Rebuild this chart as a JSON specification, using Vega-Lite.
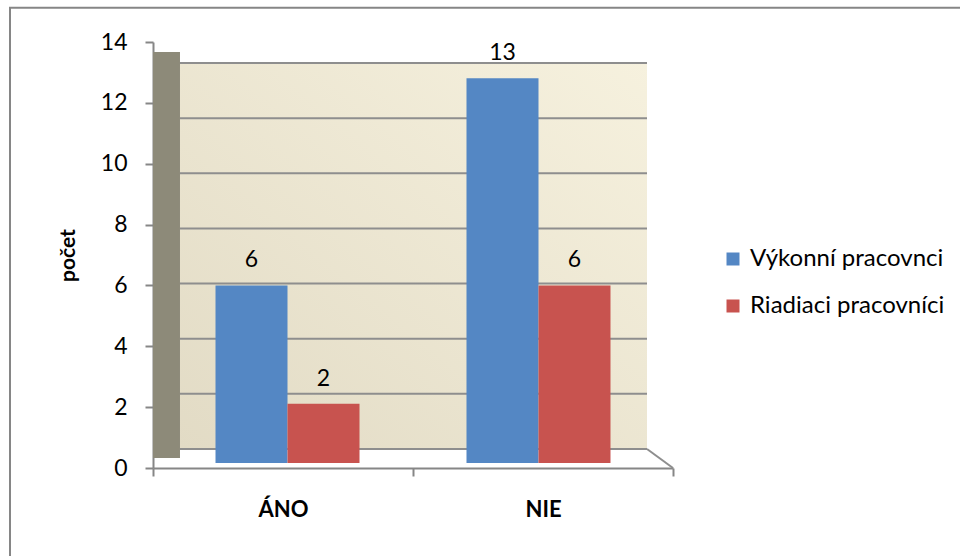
{
  "$schema": "https://vega.github.io/schema/vega-lite/v6.json",
  "width": 520,
  "height": 426,
  "autosize": {"type": "none"},
  "padding": {"left": 153, "top": 42, "right": 287, "bottom": 88},
  "background": "white",
  "config": {
    "view": {"stroke": null},
    "font": "Lato",
    "axis": {"labelFont": "Lato", "titleFont": "Lato"},
    "legend": {"labelFont": "Lato"}
  },
  "datasets": {
    "grid": [{"v": 0}, {"v": 2}, {"v": 4}, {"v": 6}, {"v": 8}, {"v": 10}, {"v": 12}, {"v": 14}]
  },
  "data": {
    "values": [
      {"cat": "ÁNO", "series": "Výkonní pracovnci", "value": 6},
      {"cat": "ÁNO", "series": "Riadiaci pracovníci", "value": 2},
      {"cat": "NIE", "series": "Výkonní pracovnci", "value": 13},
      {"cat": "NIE", "series": "Riadiaci pracovníci", "value": 6}
    ]
  },
  "layer": [
    {
      "layer": [
        {
          "data": {"values": [{}]},
          "mark": {"type": "rect", "fillOpacity": 0, "stroke": "#868686", "strokeWidth": 2},
          "encoding": {
            "x": {"datum": -0.55, "type": "quantitative", "scale": {"domain": [0, 2], "nice": false, "zero": false},
              "axis": {"values": [0, 1, 2], "orient": "bottom", "labels": false, "ticks": true, "tickSize": 8, "tickWidth": 2, "tickColor": "#868686", "domainColor": "#868686", "domainWidth": 2, "grid": false, "title": null}},
            "x2": {"datum": 3.3},
            "y": {"datum": 16.0, "type": "quantitative", "scale": {"domain": [-0.689, 14.762], "nice": false, "zero": false}, "axis": null},
            "y2": {"datum": -4.5}
          }
        },
        {
          "data": {"values": [{}]},
          "mark": {"type": "rect", "fill": {"gradient": "linear", "x1": 0, "y1": 1, "x2": 1, "y2": 0, "stops": [{"offset": 0, "color": "#e2dbc5"}, {"offset": 1, "color": "#f6f1de"}]}},
          "encoding": {
            "x": {"datum": 0.1038, "type": "quantitative"},
            "x2": {"datum": 1.9},
            "y": {"datum": 0, "type": "quantitative"},
            "y2": {"datum": 14}
          }
        },
        {
          "data": {"values": [{}]},
          "mark": {"type": "rect", "fill": "#8d8a79"},
          "encoding": {
            "x": {"datum": 0, "type": "quantitative"},
            "x2": {"datum": 0.1038},
            "y": {"datum": -0.33, "type": "quantitative"},
            "y2": {"datum": 14.4}
          }
        },
        {
          "data": {"name": "grid"},
          "mark": {"type": "rule", "stroke": "#8e8e8e", "strokeWidth": 2},
          "encoding": {
            "x": {"datum": 0.1038, "type": "quantitative"},
            "x2": {"datum": 1.9},
            "y": {"field": "v", "type": "quantitative"}
          }
        },
        {
          "data": {"values": [{}]},
          "mark": {"type": "rule", "stroke": "#8e8e8e", "strokeWidth": 2},
          "encoding": {
            "x": {"datum": 1.9, "type": "quantitative"},
            "x2": {"datum": 2.0},
            "y": {"datum": 0, "type": "quantitative"},
            "y2": {"datum": -0.689}
          }
        }
      ]
    },
    {
      "data": {"values": [{}]},
      "mark": {"type": "point", "opacity": 0},
      "encoding": {
        "x": {"datum": 1, "type": "quantitative", "scale": {"domain": [0, 2], "nice": false, "zero": false},
          "axis": {"values": [0.5, 1.5], "labelExpr": "datum.value < 1 ? 'ÁNO' : 'NIE'", "orient": "bottom", "domain": false, "ticks": false, "grid": false, "labelFontSize": 22, "labelFontWeight": "bold", "labelColor": "#000", "labelPadding": 31, "title": null}},
        "y": {"datum": 0, "type": "quantitative", "scale": {"domain": [0, 14], "nice": false, "zero": false},
          "axis": {"values": [0, 2, 4, 6, 8, 10, 12, 14], "orient": "left", "grid": false, "tickSize": 8, "tickWidth": 2, "tickColor": "#868686", "domainColor": "#868686", "domainWidth": 2, "labelFontSize": 23, "labelPadding": 18, "labelColor": "#000", "title": "počet", "titleFontSize": 21, "titleFontWeight": "bold", "titleColor": "#000", "titlePadding": 22}}
      }
    },
    {
      "encoding": {
        "x": {"field": "cat", "type": "nominal", "sort": ["ÁNO", "NIE"], "scale": {"paddingInner": 0, "paddingOuter": 0.0359}, "axis": null},
        "xOffset": {"field": "series", "type": "nominal", "sort": ["Výkonní pracovnci", "Riadiaci pracovníci"], "scale": {"paddingInner": 0, "paddingOuter": 0.743}},
        "y": {"field": "value", "type": "quantitative", "scale": {"domain": [-0.169, 14.223], "nice": false, "zero": false}, "axis": null}
      },
      "layer": [
        {
          "mark": {"type": "bar"},
          "encoding": {
            "y2": {"datum": 0},
            "color": {"field": "series", "type": "nominal", "sort": ["Výkonní pracovnci", "Riadiaci pracovníci"],
              "scale": {"domain": ["Výkonní pracovnci", "Riadiaci pracovníci"], "range": ["#5487c4", "#c8534f"]},
              "legend": {"orient": "none", "legendX": 568, "legendY": 205, "title": null, "symbolType": "square", "symbolSize": 169, "symbolStrokeWidth": 0, "labelFontSize": 24, "labelLimit": 0, "labelColor": "#000", "rowPadding": 23, "labelOffset": 5, "padding": 0}}
          }
        },
        {
          "mark": {"type": "text", "fontSize": 23, "dy": -18, "baseline": "alphabetic", "color": "#000"},
          "encoding": {
            "text": {"field": "value", "type": "quantitative"}
          }
        }
      ]
    }
  ],
  "resolve": {
    "scale": {"x": "independent", "y": "independent", "color": "independent"},
    "axis": {"x": "independent", "y": "independent"}
  }
}
